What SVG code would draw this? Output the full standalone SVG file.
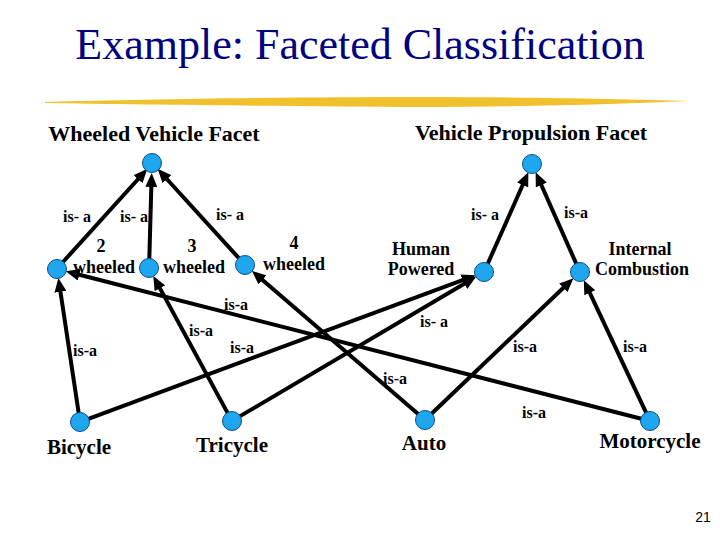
<svg xmlns="http://www.w3.org/2000/svg" width="720" height="540" viewBox="0 0 720 540">
<style>
.title,.facet,.lbl,.big,.isa{font-family:'Liberation Serif','Times New Roman',serif}
.title{font-size:44px;fill:#000080;text-anchor:middle}
.facet{font-size:22px;font-weight:bold;fill:#000;text-anchor:middle}
.lbl{font-size:18px;font-weight:bold;fill:#000;text-anchor:middle}
.big{font-size:21px;font-weight:bold;fill:#000;text-anchor:middle}
.isa{font-size:16px;font-weight:bold;fill:#000;text-anchor:middle}
.num{font-family:'Liberation Sans',Arial,sans-serif;font-size:14px;fill:#000;text-anchor:middle}
.node{fill:#1ea6ee;stroke:#0b4f8a;stroke-width:1}
.edge{stroke:#000;stroke-width:4;fill:none;marker-end:url(#arr)}
</style>
<defs>
<marker id="arr" markerUnits="userSpaceOnUse" viewBox="0 0 14 12" markerWidth="14" markerHeight="12" refX="3" refY="6" orient="auto">
<path d="M0,0 L14,6 L0,12 Z" fill="#000"/>
</marker>
</defs>
<rect width="720" height="540" fill="#fff"/>
<text class="title" x="360" y="59">Example: Faceted Classification</text>
<path d="M45,102 C150,99 300,97 420,97 C520,97 620,99 688,101 C620,104 520,107 420,107 C300,106 150,105 45,103 Z" fill="#f0c12c"/>
<text class="facet" x="154" y="141">Wheeled Vehicle Facet</text>
<text class="facet" x="531" y="140">Vehicle Propulsion Facet</text>
<g id="connectors">
<line class="edge" x1="63" y1="262" x2="140" y2="177"/>
<line class="edge" x1="149.3" y1="259" x2="151.4" y2="184"/>
<line class="edge" x1="239" y1="258.3" x2="165" y2="177"/>
<line class="edge" x1="487.7" y1="263.8" x2="523.9" y2="182.3"/>
<line class="edge" x1="576.3" y1="263.8" x2="540.1" y2="182.3"/>
<line class="edge" x1="78.7" y1="413" x2="60" y2="288.8"/>
<line class="edge" x1="88.4" y1="418.9" x2="465.3" y2="279"/>
<line class="edge" x1="227.7" y1="413.1" x2="158.5" y2="285.6"/>
<line class="edge" x1="239.7" y1="416.4" x2="466.8" y2="282.2"/>
<line class="edge" x1="418.2" y1="414.1" x2="260.2" y2="278"/>
<line class="edge" x1="431.5" y1="413.8" x2="565.5" y2="285.8"/>
<line class="edge" x1="641.3" y1="418.8" x2="76.4" y2="274"/>
<line class="edge" x1="646.2" y1="412.9" x2="588.5" y2="290.1"/>
</g>
<g id="labels">
<text class="isa" x="77" y="222">is- a</text>
<text class="isa" x="134" y="222">is- a</text>
<text class="isa" x="230" y="220">is- a</text>
<text class="isa" x="485" y="220">is- a</text>
<text class="isa" x="576" y="218">is-a</text>
<text class="isa" x="236" y="310">is-a</text>
<text class="isa" x="201" y="336">is-a</text>
<text class="isa" x="242" y="353">is-a</text>
<text class="isa" x="85" y="356">is-a</text>
<text class="isa" x="434" y="327">is- a</text>
<text class="isa" x="525" y="352">is-a</text>
<text class="isa" x="635" y="352">is-a</text>
<text class="isa" x="395" y="384">is-a</text>
<text class="isa" x="534" y="418">is-a</text>
</g>
<g id="wheeled-root"><circle class="node" cx="152" cy="163" r="9.5"/></g>
<g id="two-wheeled"><circle class="node" cx="57" cy="269" r="9.5"/><text class="lbl" x="101" y="252">2</text><text class="lbl" x="104" y="273">wheeled</text></g>
<g id="three-wheeled"><circle class="node" cx="149" cy="268" r="9.5"/><text class="lbl" x="192" y="252">3</text><text class="lbl" x="194" y="273">wheeled</text></g>
<g id="four-wheeled"><circle class="node" cx="245" cy="265" r="9.5"/><text class="lbl" x="294" y="249">4</text><text class="lbl" x="294" y="270">wheeled</text></g>
<g id="propulsion-root"><circle class="node" cx="532" cy="164" r="9.5"/></g>
<g id="human-powered"><circle class="node" cx="484" cy="272" r="9.5"/><text class="lbl" x="421" y="255">Human</text><text class="lbl" x="421" y="275">Powered</text></g>
<g id="internal-combustion"><circle class="node" cx="580" cy="272" r="9.5"/><text class="lbl" x="640" y="255">Internal</text><text class="lbl" x="642" y="275">Combustion</text></g>
<g id="bicycle"><circle class="node" cx="80" cy="422" r="9.5"/><text class="big" x="79" y="454">Bicycle</text></g>
<g id="tricycle"><circle class="node" cx="232" cy="421" r="9.5"/><text class="big" x="232" y="452">Tricycle</text></g>
<g id="auto"><circle class="node" cx="425" cy="420" r="9.5"/><text class="big" x="424" y="450">Auto</text></g>
<g id="motorcycle"><circle class="node" cx="650" cy="421" r="9.5"/><text class="big" x="650" y="448">Motorcycle</text></g>
<text class="num" x="703" y="522">21</text>
</svg>
